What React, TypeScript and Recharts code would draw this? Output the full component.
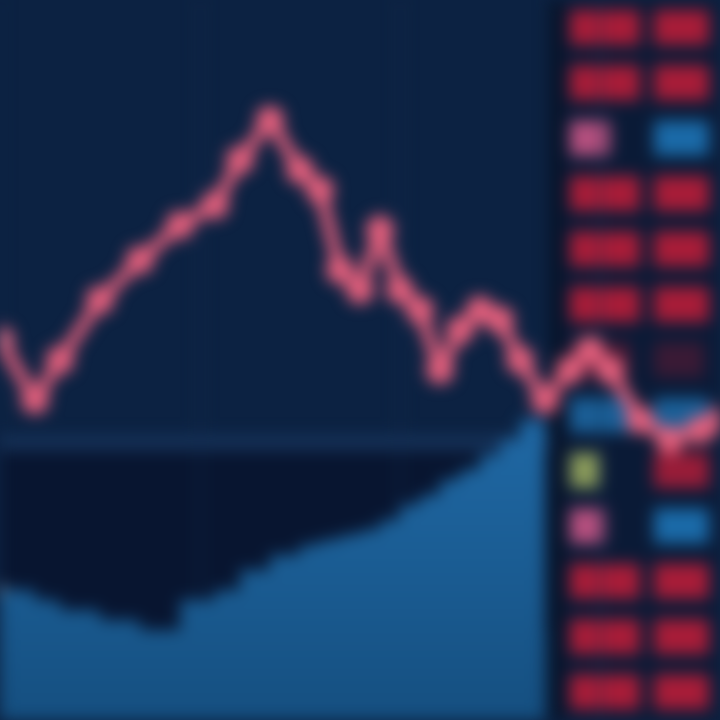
import React from 'react';
import { ComposedChart, Line, Area, XAxis, YAxis, CartesianGrid, BarChart, Bar, Cell } from 'recharts';

// price line (x = time step, price = height from bottom)
const times = [0, 35, 60, 100, 140, 180, 215, 240, 270, 300, 320, 340, 360, 380, 400, 420, 440, 460, 480, 500, 520, 545, 570, 590, 610, 640, 670, 700, 720];
const prices = [380, 320, 360, 420, 460, 495, 515, 560, 600, 550, 530, 450, 430, 490, 430, 410, 350, 390, 410, 400, 360, 320, 350, 370, 350, 300, 280, 290, 300];
const volumes = [130, 120, 110, 100, 90, 120, 130, 150, 165, 175, 180, 185, 190, 200, 215, 225, 240, 250, 265, 280, 300, 300, null, null, null, null, null, null, null];

// order book rows on the right
const bookRows = ['r1', 'r2', 'r3', 'r4', 'r5', 'r6', 'r7', 'r8', 'r9', 'r10', 'r11', 'r12', 'r13'];
const bidSize = [70, 70, 40, 70, 70, 70, 60, 60, 30, 35, 70, 70, 70];
const askSize = [55, 55, 55, 55, 55, 55, 50, 55, 55, 55, 55, 55, 55];
const bidColors = ['#a81c38', '#a81c38', '#b8507f', '#a81c38', '#a81c38', '#a81c38', '#4a1a35', '#1a5f97', '#8a9a5a', '#b8507f', '#a81c38', '#a81c38', '#a81c38'];
const askColors = ['#a81c38', '#a81c38', '#1a6aa8', '#a81c38', '#a81c38', '#a81c38', '#3a1a35', '#1a5f97', '#981c38', '#1a6aa8', '#a81c38', '#a81c38', '#a81c38'];

const lineData = times.map((t, i) => ({ t, price: prices[i], volume: volumes[i] }));
const bookData = bookRows.map((r, i) => ({ row: r, pad: 8, bid: bidSize[i], gap: 84 - bidSize[i], ask: askSize[i] }));

export default function App() {
  return (
    <div style={{ width: 720, height: 720, position: 'relative', background: '#0c2242', overflow: 'hidden' }}>
      <style>{'body{margin:0}'}</style>
      <div style={{ position: 'absolute', inset: 0, filter: 'blur(8px)' }}>
        <div style={{ position: 'absolute', left: 0, top: 450, width: 550, height: 180, background: '#081530' }} />
        <div style={{ position: 'absolute', left: 550, top: 0, width: 12, height: 720, background: '#071226' }} />
        <div style={{ position: 'absolute', left: 562, top: 0, width: 158, height: 720, background: '#0a1a36' }}>
          <BarChart width={158} height={720} data={bookData} layout="vertical" margin={{ top: 0, right: 0, left: 0, bottom: 0 }} barCategoryGap="18%">
            <XAxis type="number" domain={[0, 158]} hide />
            <YAxis type="category" dataKey="row" hide />
            <Bar dataKey="pad" stackId="a" fill="transparent" isAnimationActive={false} />
            <Bar dataKey="bid" stackId="a" isAnimationActive={false}>
              {bookData.map((d, i) => <Cell key={d.row} fill={bidColors[i]} />)}
            </Bar>
            <Bar dataKey="gap" stackId="a" fill="transparent" isAnimationActive={false} />
            <Bar dataKey="ask" stackId="a" isAnimationActive={false}>
              {bookData.map((d, i) => <Cell key={d.row} fill={askColors[i]} />)}
            </Bar>
          </BarChart>
        </div>
        <div style={{ position: 'absolute', left: 0, top: 436, width: 550, height: 14, background: '#16335a' }} />
        <div style={{ position: 'absolute', left: 0, top: 0 }}>
          <ComposedChart width={720} height={720} data={lineData} margin={{ top: 0, right: 0, left: 0, bottom: 0 }}>
            <defs>
              <linearGradient id="vol" x1="0" y1="0" x2="0" y2="1">
                <stop offset="0%" stopColor="#1f68a4" />
                <stop offset="100%" stopColor="#154f80" />
              </linearGradient>
            </defs>
            <CartesianGrid vertical horizontal={false} stroke="#132c50" strokeWidth={2} />
            <XAxis dataKey="t" type="number" domain={[0, 720]} hide />
            <YAxis type="number" domain={[0, 720]} hide />
            <Area dataKey="volume" type="stepAfter" stroke="none" fill="url(#vol)" fillOpacity={1} isAnimationActive={false} />
            <Line dataKey="price" type="linear" stroke="#e45f7c" strokeWidth={12}
              dot={{ r: 14, fill: '#e45f7c', stroke: 'none' }} isAnimationActive={false} />
          </ComposedChart>
        </div>
      </div>
    </div>
  );
}
